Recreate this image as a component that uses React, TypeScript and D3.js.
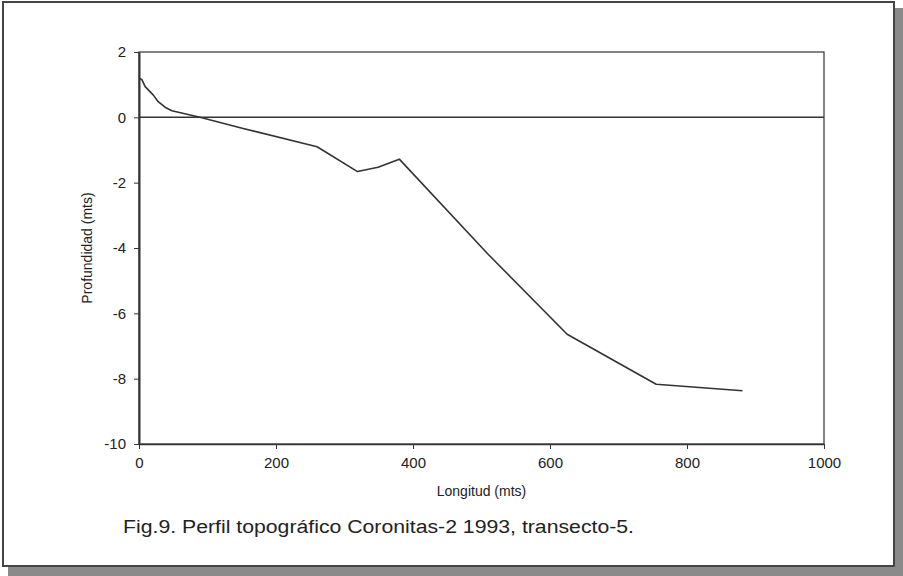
import { useRef, useEffect } from "react";
import { select, scaleLinear, line, axisBottom, axisLeft, format } from "d3";

const longitud = [0, 4, 9, 21, 28, 38, 48, 89, 152, 260, 319, 349, 380, 510, 625, 755, 881];
const profundidad = [1.2, 1.16, 0.94, 0.68, 0.48, 0.31, 0.2, 0, -0.34, -0.9, -1.66, -1.53, -1.28, -4.2, -6.64, -8.17, -8.37];
const xTicks = [0, 200, 400, 600, 800, 1000];
const yTicks = [2, 0, -2, -4, -6, -8, -10];

const xLabel = "Longitud (mts)";
const yLabel = "Profundidad (mts)";
const caption = "Fig.9. Perfil topográfico Coronitas-2 1993, transecto-5.";

export default function App() {
  const svgRef = useRef<SVGSVGElement | null>(null);
  const width = 903;
  const height = 576;

  useEffect(() => {
    if (!svgRef.current) return;
    const svg = select(svgRef.current);
    svg.selectAll("*").remove();

    const margin = { left: 139, right: 79, top: 52, bottom: 132 };
    const ink = "#333";
    const font = "'Liberation Sans', Arial, sans-serif";
    const fmt = (d: any) => format("d")(d).replace("−", "-");

    // frame with drop shadow
    svg.append("rect").attr("x", 0).attr("y", 0).attr("width", width).attr("height", height).attr("fill", "#fff");
    svg.append("rect").attr("x", 8).attr("y", 566).attr("width", 895).attr("height", 10).attr("fill", "#8a8a8a");
    svg.append("rect").attr("x", 894).attr("y", 8).attr("width", 9).attr("height", 568).attr("fill", "#8a8a8a");
    svg.append("rect").attr("x", 3).attr("y", 2).attr("width", 891).attr("height", 564)
      .attr("fill", "#fff").attr("stroke", "#444").attr("stroke-width", 2);

    const x = scaleLinear().domain([0, 1000]).range([margin.left, width - margin.right]);
    const y = scaleLinear().domain([-10, 2]).range([height - margin.bottom, margin.top]);

    // plot box
    svg.append("rect")
      .attr("x", x(0)).attr("y", y(2))
      .attr("width", x(1000) - x(0)).attr("height", y(-10) - y(2))
      .attr("fill", "none").attr("stroke", ink).attr("stroke-width", 1.2);

    // zero line
    svg.append("line")
      .attr("x1", x(0)).attr("x2", x(1000)).attr("y1", y(0)).attr("y2", y(0))
      .attr("stroke", ink).attr("stroke-width", 1.5);

    const xAxis = svg.append("g")
      .attr("transform", `translate(0, ${y(-10)})`)
      .call(axisBottom(x).tickValues(xTicks).tickFormat(fmt).tickSize(5).tickSizeOuter(0).tickPadding(8));
    xAxis.select(".domain").attr("stroke", ink).attr("stroke-width", 1.5);
    xAxis.selectAll(".tick line").attr("stroke", ink);
    xAxis.selectAll("text").attr("font-family", font).attr("font-size", 15).attr("fill", "#222");

    const yAxis = svg.append("g")
      .attr("transform", `translate(${x(0)}, 0)`)
      .call(axisLeft(y).tickValues(yTicks).tickFormat(fmt).tickSize(5).tickSizeOuter(0).tickPadding(8));
    yAxis.select(".domain").attr("stroke", ink).attr("stroke-width", 2);
    yAxis.selectAll(".tick line").attr("stroke", ink);
    yAxis.selectAll("text").attr("font-family", font).attr("font-size", 15).attr("fill", "#222");

    svg.append("text")
      .attr("x", (x(0) + x(1000)) / 2).attr("y", 496)
      .attr("text-anchor", "middle").attr("font-family", font).attr("font-size", 14).attr("fill", "#222")
      .text(xLabel);

    svg.append("text")
      .attr("transform", `translate(92, ${(y(2) + y(-10)) / 2}) rotate(-90)`)
      .attr("text-anchor", "middle").attr("font-family", font).attr("font-size", 14).attr("fill", "#222")
      .text(yLabel);

    svg.append("text")
      .attr("x", 123).attr("y", 533)
      .attr("font-family", font).attr("font-size", 18).attr("fill", "#222")
      .attr("textLength", 511).attr("lengthAdjust", "spacingAndGlyphs")
      .text(caption);

    const lineFunc = line<number>()
      .x((_, i) => x(longitud[i]))
      .y((d) => y(d));

    svg.append("path")
      .attr("fill", "none")
      .attr("stroke", ink)
      .attr("stroke-width", 1.6)
      .attr("stroke-linejoin", "round")
      .attr("d", lineFunc(profundidad));
  }, []);

  return (
    <svg
      ref={svgRef}
      width={width}
      height={height}
      viewBox={`0 0 ${width} ${height}`}
      style={{ position: "absolute", left: 0, top: 0 }}
    ></svg>
  );
}
